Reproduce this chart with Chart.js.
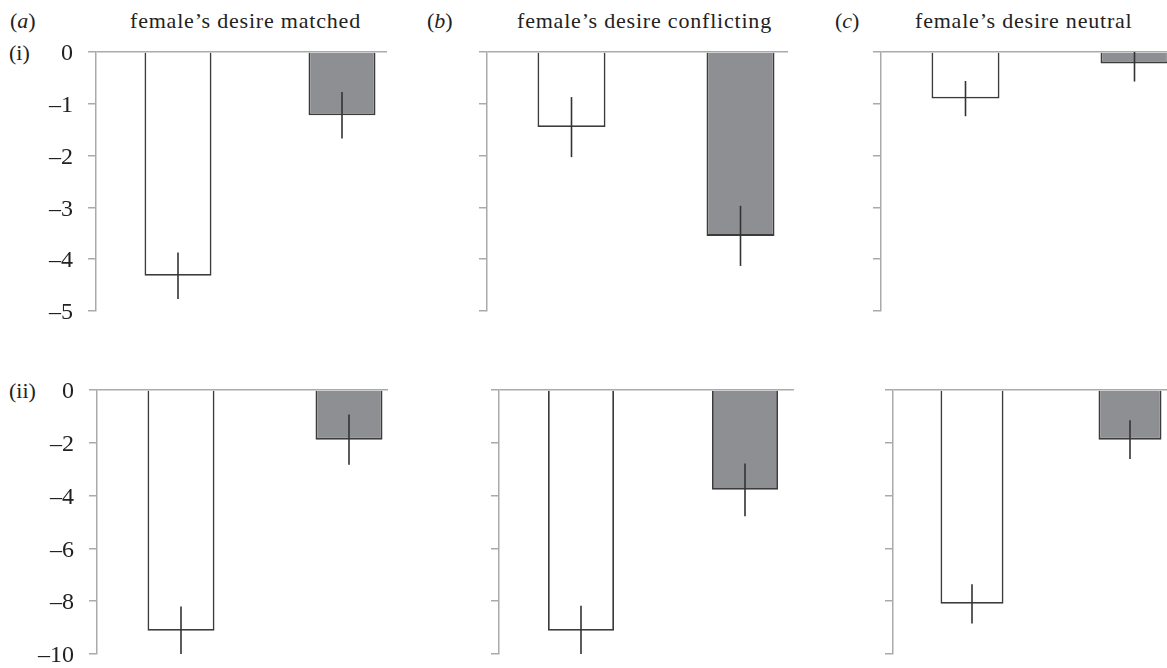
<!DOCTYPE html>
<html>
<head>
<meta charset="utf-8">
<script src="https://cdn.jsdelivr.net/npm/chart.js@4.4.1/dist/chart.umd.min.js"></script>
<style>
  body { margin: 0; background: #fff; width: 1167px; height: 668px; overflow: hidden; position: relative; }
  .txt { position: absolute; font-family: 'Liberation Serif', serif; font-size: 22px; color: #222; white-space: nowrap; line-height: 1; }
  .ttl { letter-spacing: 0.8px; }
  .box { position: absolute; overflow: hidden; }
  .box canvas { position: absolute; left: 0; top: 0; }
</style>
</head>
<body>
<div class="txt" style="left:10px;top:10px">(<i>a</i>)</div>
<div class="txt ttl" style="left:130px;top:10px">female’s desire matched</div>
<div class="txt" style="left:427px;top:10px">(<i>b</i>)</div>
<div class="txt ttl" style="left:517px;top:10px">female’s desire conflicting</div>
<div class="txt" style="left:835px;top:10px">(<i>c</i>)</div>
<div class="txt ttl" style="left:915px;top:10px">female’s desire neutral</div>
<div class="txt" style="left:9px;top:42px">(i)</div>
<div class="txt" style="left:9px;top:380px">(ii)</div>
<div id="panels"></div>
<script>
// bar order in every panel: open bar, grey bar
const barLabels = ['condition 1', 'condition 2'];

// row (i)
const row1Open = [-4.32, -1.45, -0.90];
const row1OpenErr = [0.45, 0.58, 0.34];
const row1Grey = [-1.22, -3.55, -0.22];
const row1GreyErr = [0.45, 0.58, 0.35];
const row1Ticks = { min: -5, max: 0, step: 1 };

// row (ii)
const row2Open = [-9.12, -9.12, -8.10];
const row2OpenErr = [0.92, 0.95, 0.74];
const row2Grey = [-1.88, -3.78, -1.88];
const row2GreyErr = [0.95, 1.00, 0.73];
const row2Ticks = { min: -10, max: 0, step: 2 };

// layout of the six panels
const rows = [
  { open: row1Open, openErr: row1OpenErr, grey: row1Grey, greyErr: row1GreyErr, ticks: row1Ticks,
    top: 52, bottom: 311, axisX: [96, 487, 881], catW: [164, 169, 169], clip: [387, 788, 1167], barW: [67, 68, 68] },
  { open: row2Open, openErr: row2OpenErr, grey: row2Grey, greyErr: row2GreyErr, ticks: row2Ticks,
    top: 390, bottom: 654, axisX: [97, 499, 893], catW: [168, 164, 158], clip: [388, 794, 1167], barW: [67, 66, 63] }
];

const AXIS_W = 62;
const PAD = 14;

const errorBars = {
  id: 'errorBars',
  afterDatasetsDraw(chart) {
    const y = chart.scales.y;
    const area = chart.chartArea;
    const c = chart.ctx;
    const ds = chart.data.datasets[0];
    const meta = chart.getDatasetMeta(0);
    c.save();
    c.beginPath();
    c.rect(area.left, area.top, area.right - area.left, area.bottom - area.top);
    c.clip();
    c.strokeStyle = '#333';
    c.lineWidth = 1.6;
    meta.data.forEach((bar, i) => {
      const v = ds.data[i], e = ds.errors[i];
      c.beginPath();
      c.moveTo(bar.x, y.getPixelForValue(v + e));
      c.lineTo(bar.x, y.getPixelForValue(v - e));
      c.stroke();
    });
    c.restore();
  }
};

const holder = document.getElementById('panels');

rows.forEach(row => {
  for (let p = 0; p < 3; p++) {
    const left = row.axisX[p] - AXIS_W;
    const w = AXIS_W + 2 * row.catW[p];
    const h = (row.bottom - row.top) + 2 * PAD;
    const box = document.createElement('div');
    box.className = 'box';
    box.style.left = left + 'px';
    box.style.top = (row.top - PAD) + 'px';
    box.style.width = Math.min(w, row.clip[p] - left) + 'px';
    box.style.height = h + 'px';
    const cv = document.createElement('canvas');
    cv.width = w;
    cv.height = h;
    box.appendChild(cv);
    holder.appendChild(box);

    new Chart(cv, {
      type: 'bar',
      data: {
        labels: barLabels,
        datasets: [{
          data: [row.open[p], row.grey[p]],
          errors: [row.openErr[p], row.greyErr[p]],
          backgroundColor: ['#ffffff', '#8e8f92'],
          borderColor: '#3c3c3c',
          borderWidth: 1.8,
          barPercentage: row.barW[p] / row.catW[p],
          categoryPercentage: 1
        }]
      },
      options: {
        responsive: false,
        animation: false,
        events: [],
        layout: { padding: { top: PAD, bottom: PAD, left: 0, right: 0 } },
        plugins: { legend: { display: false }, tooltip: { enabled: false } },
        scales: {
          x: { display: false },
          y: {
            min: row.ticks.min,
            max: row.ticks.max,
            afterFit: s => { s.width = AXIS_W; s.paddingTop = 0; s.paddingBottom = 0; },
            border: { display: true, color: '#aaaaaa', width: 1.5 },
            grid: {
              color: c => c.tick && c.tick.value === 0 ? '#aaaaaa' : 'rgba(0,0,0,0)',
              tickColor: '#aaaaaa',
              tickLength: 8,
              lineWidth: 1.5
            },
            ticks: {
              stepSize: row.ticks.step,
              display: p === 0,
              padding: 15,
              labelOffset: 2,
              color: '#222',
              font: { family: 'Liberation Serif', size: 24 },
              callback: v => v === 0 ? '0' : '\u2013' + Math.abs(v)
            }
          }
        }
      },
      plugins: [errorBars]
    });
  }
});
</script>
</body>
</html>
